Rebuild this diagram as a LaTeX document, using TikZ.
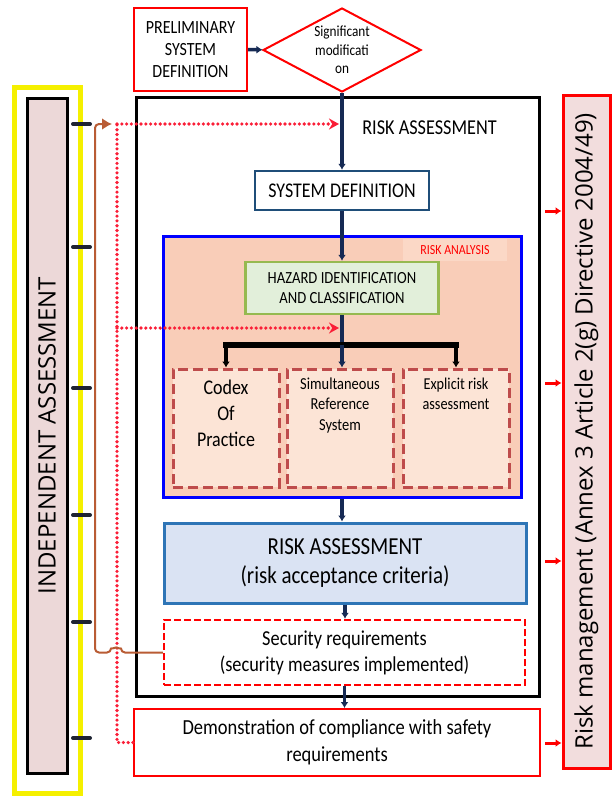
\documentclass[tikz,border=0pt]{standalone}
\usepackage{fontspec}
\setmainfont{Carlito}[FakeStretch=0.86]
\newfontfamily\sidefont{Open Sans}
\usetikzlibrary{arrows.meta,shapes.geometric,positioning}
\definecolor{yel}{RGB}{245,240,0}
\definecolor{iapink}{RGB}{236,216,216}
\definecolor{rmpink}{RGB}{242,221,221}
\definecolor{navy}{RGB}{22,42,84}
\definecolor{brownc}{RGB}{185,92,52}
\definecolor{dotred}{RGB}{250,30,55}
\definecolor{sdblue}{RGB}{31,78,121}
\definecolor{salmon}{RGB}{249,205,184}
\definecolor{salmonlight}{RGB}{251,216,198}
\definecolor{hzgreen}{RGB}{150,185,80}
\definecolor{hzfill}{RGB}{226,239,218}
\definecolor{dred}{RGB}{190,75,75}
\definecolor{peach}{RGB}{252,228,214}
\definecolor{crblue}{RGB}{46,117,182}
\definecolor{crfill}{RGB}{218,227,243}
\definecolor{tickc}{RGB}{30,35,50}

\begin{document}
\begin{tikzpicture}[x=1pt,y=-1pt]
\tikzstyle{box} = [draw, align=center, inner sep=0pt]
\tikzstyle{option} = [draw=dred, line width=3pt, dash pattern=on 10pt off 5pt, fill=peach, minimum width=106pt, minimum height=118pt]
\tikzstyle{optxt} = [align=center, inner sep=0pt]
\tikzstyle{flow} = [draw=navy, line width=3.5pt, -{Latex[length=6pt,width=8pt]}]
\tikzstyle{drop} = [draw=black, line width=4pt, -{Latex[length=6pt,width=8pt]}]
\tikzstyle{bar} = [draw=black, line width=6pt, line cap=rect]
\tikzstyle{reddot} = [draw=dotred, line width=3.6pt, line cap=round, dash pattern=on 0pt off 4.8pt]
\tikzstyle{tip} = [-{Stealth[length=10pt,width=11pt]}]
\tikzstyle{tick} = [draw=tickc, line width=4pt, line cap=round]
\tikzstyle{rmarrow} = [draw=red, line width=3pt, -{Latex[length=6pt,width=8pt]}]

\useasboundingbox (0,0) rectangle (611,800);

\node[draw=yel, line width=5pt, minimum width=65.5pt, minimum height=706pt] (iaframe) at (47.25,440) {};
\node[box, draw=black, line width=3pt, fill=iapink, minimum width=40pt, minimum height=675pt, font=\sidefont\fontsize{24}{28}\selectfont] (ia) at (47,435.5) {\rotatebox{90}{INDEPENDENT ASSESSMENT}};
\foreach \y in {124,247,388,515,622,738}
  \draw[tick] (73,\y) -- (90,\y);

\node[box, draw=red, line width=3pt, fill=rmpink, minimum width=47pt, minimum height=673pt, font=\sidefont\fontsize{24}{28}\selectfont] (rm) at (586.5,431.5) {\rotatebox{90}{Risk management (Annex 3 Article 2(g) Directive 2004/49)}};

\node[box, draw=red, line width=2pt, minimum width=113pt, minimum height=83pt, font=\fontsize{18.6}{22}\selectfont] (psd) at (190.5,49.5) {PRELIMINARY\\SYSTEM\\DEFINITION};
\node[diamond, shape aspect=2, draw=red, line width=2pt, inner sep=0pt, minimum width=158pt, minimum height=84pt, align=center, font=\fontsize{15.4}{18.5}\selectfont] (sig) at (342,50) {Significant\\modificati\\on};

\node[draw, line width=3pt, minimum width=403pt, minimum height=599pt] (ra) at (337.5,396.5) {};
\node[font=\fontsize{21.2}{24}\selectfont] (ratitle) at (429.5,128) {RISK ASSESSMENT};

\node[box, draw=sdblue, line width=2.5pt, fill=white, minimum width=174pt, minimum height=39pt, font=\fontsize{20.9}{24}\selectfont] (sd) at (342,190.5) {SYSTEM DEFINITION};

\node[draw=blue, line width=3pt, fill=salmon, minimum width=358pt, minimum height=261pt] (rab) at (342,366.5) {};
\node[fill=salmonlight, text=red, font=\fontsize{13.9}{16}\selectfont, minimum width=104pt, minimum height=22pt] (ralabel) at (455,250) {RISK ANALYSIS};
\node[box, draw=hzgreen, line width=2.5pt, fill=hzfill, minimum width=193pt, minimum height=52pt, font=\fontsize{17}{20}\selectfont] (haz) at (342,288) {HAZARD IDENTIFICATION\\AND CLASSIFICATION};

\node[option] (cop) at (226,428) {};
\node[option] (srs) at (340,428) {};
\node[option] (era) at (456,428) {};
\node[optxt, below=12pt of cop.north, font=\fontsize{20.9}{26}\selectfont] (coptxt) {Codex\\Of\\Practice};
\node[optxt, below=10pt of srs.north, font=\fontsize{16.8}{20.5}\selectfont] (srstxt) {Simultaneous\\Reference\\System};
\node[optxt, below=10pt of era.north, font=\fontsize{16.6}{20.5}\selectfont] (eratxt) {Explicit risk\\assessment};

\node[box, draw=crblue, line width=3pt, fill=crfill, minimum width=362pt, minimum height=80pt, font=\fontsize{24.4}{29}\selectfont] (crit) at (345,563) {RISK ASSESSMENT\\(risk acceptance criteria)};
\node[box, draw=red, line width=2.5pt, dash pattern=on 7pt off 3pt, fill=white, minimum width=361pt, minimum height=65pt, font=\fontsize{21.3}{26}\selectfont] (sec) at (344.5,652.5) {Security requirements\\(security measures implemented)};
\node[box, draw=red, line width=2pt, fill=white, minimum width=406pt, minimum height=67pt, font=\fontsize{21.5}{27}\selectfont] (demo) at (337,742.5) {Demonstration of compliance with safety\\requirements};

\coordinate (br) at (342,345);
\draw[flow] (psd) -- (sig);
\draw[flow] (sig) -- (sd);
\draw[flow] (sd) -- (haz);
\draw[draw=navy, line width=3.5pt] (haz) -- (br);
\draw[bar] (cop.north |- br) -- (era.north |- br);
\draw[drop] (cop.north |- br) -- (cop.north);
\draw[drop] (era.north |- br) -- (era.north);
\draw[flow] (br) -- (br |- srs.north);
\draw[flow] (rab.south) -- (rab.south |- crit.north);
\draw[flow] (crit.south) -- (crit.south |- sec.north);
\draw[flow] (sec.south) -- (sec.south |- demo.north);

\coordinate (dtop) at (117,124);
\coordinate (dmid) at (117,328);
\coordinate (tipa) at (339,124);
\coordinate (tipb) at (339,328);
\coordinate (iatop) at (112,124);
\draw[reddot] (demo.west) -| (dtop);
\draw[reddot,tip] (dtop) -- (tipa);
\draw[reddot,tip] (dmid) -- (tipb);
\draw[brownc, line width=2pt, rounded corners=4pt, -{Latex[length=10pt,width=12pt]}] (sec.west) -- (121,652.5) arc[start angle=0,end angle=-180,radius=5] -- (95,652.5) -- (95,124) -- (iatop);

\foreach \y in {211,383,561,743} {
  \coordinate (rmt) at (545,\y);
  \draw[rmarrow] (rmt) -- (rmt -| rm.west);
}
\end{tikzpicture}
\end{document}
